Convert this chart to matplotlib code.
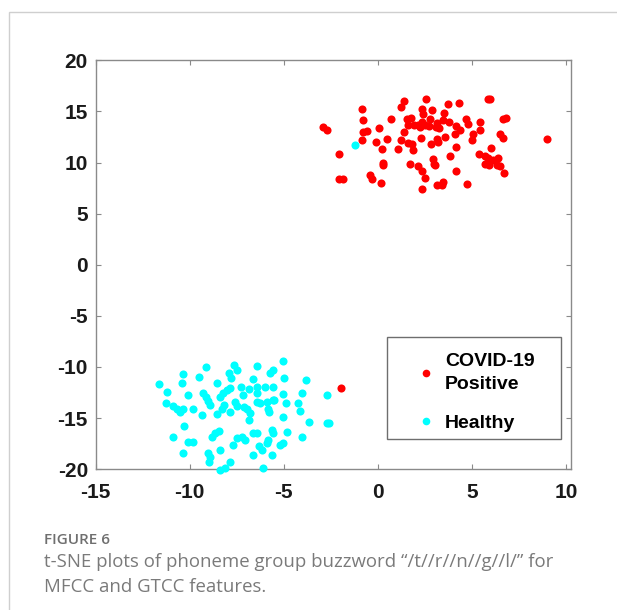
import matplotlib
matplotlib.use("Agg")
import matplotlib.pyplot as plt
from matplotlib.lines import Line2D
from matplotlib.patches import Rectangle

# t-SNE coordinates
covid_x = [-2.93, -2.72, -0.86, -0.77, -0.77, -0.59, -0.83, -2.07, -2.05, -1.83,
           -0.42, -0.33, 0.17, -0.10, 0.08, 0.20, 0.26, 0.29, 0.50, 0.68,
           1.09, 1.21, 1.21, 1.39, 1.39, 1.57, 1.75, 1.62, 1.92, 2.15,
           1.62, 1.80, 1.89, 1.71, 2.54, 2.33, 2.42, 2.33, 2.24, 2.28,
           2.15, 2.33, 2.51, 2.33, 2.77, 2.51, 2.74, 2.81, 2.86, 3.00,
           3.09, 3.16, 3.75, 4.33, 5.87, 5.96, 3.52, 3.16, 3.48, 3.80,
           3.27, 4.15, 4.37, 4.10, 4.69, 4.81, 3.57, 3.13, 3.21, 4.15,
           3.84, 2.95, 3.04, 4.15, 3.48, 3.39, 4.76, 5.43, 5.43, 5.04,
           4.99, 6.67, 6.81, 6.49, 6.64, 6.02, 5.39, 5.70, 5.87, 6.40,
           6.14, 5.70, 5.93, 6.32, 6.49, 6.71, 8.97, -1.98]
covid_y = [13.48, 13.22, 15.21, 14.17, 12.99, 13.09, 12.24, 10.84, 8.42, 8.42,
           8.75, 8.36, 8.00, 12.01, 13.38, 11.36, 9.73, 9.96, 12.34, 14.30,
           11.36, 12.18, 15.44, 15.99, 13.00, 14.30, 14.36, 13.64, 13.64, 13.64,
           11.95, 11.85, 11.20, 9.89, 16.19, 15.27, 14.78, 13.97, 13.48, 12.44,
           9.67, 9.15, 8.49, 7.45, 14.30, 13.64, 13.57, 11.85, 15.11, 9.89,
           13.48, 7.84, 15.76, 15.86, 16.25, 16.25, 14.88, 13.90, 14.13, 13.97,
           13.40, 13.57, 13.15, 12.83, 14.30, 13.80, 12.50, 12.34, 12.01, 11.52,
           10.64, 10.38, 9.73, 9.14, 8.10, 7.77, 7.94, 13.97, 13.15, 12.83,
           12.18, 14.30, 14.36, 12.83, 12.40, 11.43, 10.87, 10.64, 10.45, 10.45,
           10.22, 9.89, 9.80, 9.80, 9.67, 9.01, 12.27, -12.05]

healthy_x = [-11.62, -11.23, -11.26, -10.87, -10.70, -10.52, -10.34, -10.91, -10.34, -10.43,
             -10.11, -9.84, -10.31, -10.07, -9.84, -10.34, -9.51, -9.14, -9.31, -9.14,
             -9.01, -8.92, -9.37, -8.57, -8.83, -8.66, -8.43, -9.01, -8.92, -8.96,
             -8.39, -8.39, -8.13, -8.39, -8.21, -8.04, -8.57, -8.30, -8.18, -7.89,
             -7.82, -7.65, -7.47, -7.86, -7.86, -7.59, -7.47, -7.68, -7.51, -7.24,
             -7.06, -7.29, -7.15, -7.12, -6.97, -6.83, -6.80, -6.83, -7.86, -6.65,
             -6.44, -6.44, -6.44, -6.44, -6.27, -6.62, -6.44, -6.62, -6.30, -6.18,
             -6.12, -6.00, -5.91, -5.82, -5.77, -5.82, -5.91, -5.73, -5.59, -5.59,
             -5.52, -5.64, -5.59, -5.56, -5.64, -5.02, -4.97, -5.06, -4.90, -5.02,
             -4.81, -5.02, -5.20, -4.23, -4.05, -4.14, -3.82, -3.64, -4.05, -2.69,
             -2.69, -2.58, -1.21]
healthy_y = [-11.69, -12.44, -13.58, -13.84, -14.07, -14.39, -14.07, -16.84, -10.71, -11.62,
             -12.76, -14.07, -15.79, -17.33, -17.33, -18.40, -10.97, -9.99, -12.53, -12.93,
             -13.32, -13.74, -14.72, -11.62, -16.84, -16.51, -16.25, -18.47, -18.86, -19.28,
             -18.14, -20.05, -19.87, -12.93, -12.60, -12.27, -14.62, -14.07, -13.74, -10.64,
             -11.04, -9.83, -10.32, -12.11, -14.39, -13.42, -13.84, -17.65, -17.00, -16.90,
             -17.16, -11.95, -12.76, -13.90, -14.07, -12.21, -14.49, -15.21, -19.28, -11.23,
             -9.93, -11.95, -12.60, -13.42, -13.58, -16.51, -16.51, -18.63, -17.75, -18.14,
             -19.93, -11.95, -13.42, -14.07, -14.39, -17.16, -17.49, -10.64, -10.32, -13.25,
             -13.19, -16.19, -16.51, -11.95, -18.63, -9.41, -11.13, -12.66, -13.51, -14.95,
             -16.35, -17.49, -17.65, -13.51, -12.60, -14.30, -11.30, -15.37, -16.90, -12.70,
             -15.47, -15.53, 11.69]

labels = ["COVID-19\nPositive", "Healthy"]
x_ticks = [-15, -10, -5, 0, 5, 10]
y_ticks = [-20, -15, -10, -5, 0, 5, 10, 15, 20]

plt.rcParams['font.family'] = ['Liberation Sans', 'DejaVu Sans']

fig = plt.figure(figsize=(6.17, 6.10), dpi=100)
ax = fig.add_axes([0.155, 0.231, 0.770, 0.670])

ax.scatter(covid_x, covid_y, s=34, c='#ff0000', linewidths=0, clip_on=False, zorder=3)
ax.scatter(healthy_x, healthy_y, s=34, c='#00ffff', linewidths=0, clip_on=False, zorder=3)

ax.set_xlim(-15, 10.25)
ax.set_ylim(-20, 20)
ax.set_xticks(x_ticks)
ax.set_yticks(y_ticks)
ax.set_xticklabels([str(t) for t in x_ticks])
ax.set_yticklabels([str(t) for t in y_ticks])

for s in ax.spines.values():
    s.set_color('#8a8a8a')
    s.set_linewidth(1.0)
ax.tick_params(direction='in', length=3.6, width=0.8, color='#8a8a8a',
               top=True, right=True, labelsize=15, labelcolor='#1a1a1a')
ax.tick_params(axis='x', pad=10)
ax.tick_params(axis='y', pad=5.5)
for lab in ax.get_xticklabels() + ax.get_yticklabels():
    lab.set_fontweight('bold')

# legend: content without frame, frame drawn separately (matlab-like spacing)
handles = [Line2D([], [], ls='none', marker='o', ms=5.5, mfc='#ff0000', mec='none'),
           Line2D([], [], ls='none', marker='o', ms=5.5, mfc='#00ffff', mec='none')]
leg = ax.legend(handles, labels, loc='upper left', bbox_to_anchor=(0.675, 0.283),
                frameon=False, borderpad=0, borderaxespad=0, handlelength=1.0,
                handletextpad=0.48, labelspacing=1.1,
                prop={'weight': 'bold', 'size': 14})
for t in leg.get_texts():
    t.set_linespacing(1.45)
ax.add_patch(Rectangle((0.614, 0.0726), 0.366, 0.251, transform=ax.transAxes,
                       fill=False, ec='#6e6e6e', lw=1.0, zorder=5))

# outer page frame
fig.patches.append(Rectangle((9 / 617, -0.1), 1.2, 1.08, transform=fig.transFigure,
                             fill=False, ec='#cfcfcf', lw=1.0))

fig.text(44 / 617, 1 - 540 / 610, "FIGURE 6", va='center', ha='left', fontsize=11,
         weight='semibold', color='#6f6f6f', family='Open Sans')
fig.text(44 / 617, 1 - 562 / 610,
         "t-SNE plots of phoneme group buzzword \u201c/t//r//n//g//l/\u201d for",
         va='center', ha='left', fontsize=13.4, color='#7a7a7a', family='Open Sans')
fig.text(44 / 617, 1 - 587 / 610, "MFCC and GTCC features.",
         va='center', ha='left', fontsize=13.4, color='#7a7a7a', family='Open Sans')

fig.savefig('out.png', dpi=100)
